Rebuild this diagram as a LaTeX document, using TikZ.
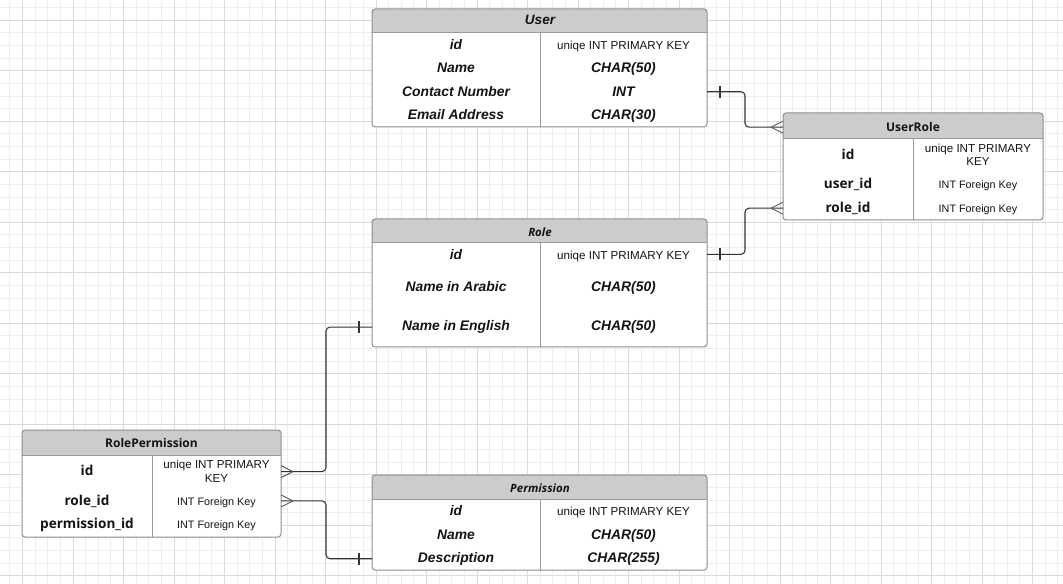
\documentclass[tikz,border=0pt]{standalone}
\usepackage{fontspec}
\setmainfont{Liberation Sans}
\newfontfamily\nsans{Open Sans}
\definecolor{gridmin}{HTML}{EDEDED}
\definecolor{gridmaj}{HTML}{DADADA}
\definecolor{hdrgray}{HTML}{CCCCCC}
\definecolor{bordergray}{HTML}{8E8E8E}
\definecolor{divgray}{HTML}{9A9A9A}
\definecolor{conncol}{HTML}{333333}
\definecolor{txtcol}{HTML}{141414}
\tikzset{
  gridminor/.style={draw=gridmin, line width=0.75pt},
  gridmajor/.style={draw=gridmaj, line width=0.75pt},
  tblnode/.style={rectangle, fill=white, rounded corners=2.25pt, inner sep=0pt, outer sep=0pt},
  tblborder/.style={draw=bordergray, line width=0.75pt, rounded corners=2.25pt},
  tblline/.style={draw=divgray, line width=0.75pt},
  conn/.style={draw=conncol, line width=0.8pt, rounded corners=3pt},
  crowline/.style={draw=conncol!80, line width=0.7pt},
  barline/.style={draw=conncol, line width=0.8pt},
  txt/.style={anchor=base, text=txtcol, inner sep=1pt},
  attr/.style={txt, font=\bfseries\itshape\fontsize{10.4}{12.5}\selectfont},
  hdrit/.style={txt, font=\bfseries\itshape\fontsize{10.2}{12}\selectfont},
  pk/.style={txt, font=\fontsize{8.7}{10.5}\selectfont},
  pkwrap/.style={txt, align=center, font=\fontsize{8.7}{10.3}\selectfont},
  fk/.style={txt, font=\fontsize{8.1}{10}\selectfont},
  nattr/.style={txt, font=\nsans\bfseries\fontsize{10.2}{12.5}\selectfont},
  nhdr/.style={txt, font=\nsans\bfseries\fontsize{9}{11}\selectfont},
  nhdrit/.style={txt, font=\nsans\bfseries\itshape\fontsize{8.6}{11}\selectfont},
}
% name, x1, y1, x2, y2, header bottom, divider x
\newcommand\ertable[7]{%
  \node[tblnode, anchor=north west, minimum width={(#4-#2)*0.75pt}, minimum height={(#5-#3)*0.75pt}] (#1) at (#2,#3) {};
  \begin{scope}
    \clip[rounded corners=2.25pt] (#2,#3) rectangle (#4,#5);
    \fill[hdrgray] (#2,#3) rectangle (#4,#6);
  \end{scope}
  \draw[tblline] (#2,#6) -- (#4,#6);
  \draw[tblline] (#7,#6) -- (#7,#5);
  \draw[tblborder] (#2,#3) rectangle (#4,#5);
}
\begin{document}
\begin{tikzpicture}[x=0.75pt, y=-0.75pt]
\useasboundingbox (0,0) rectangle (1063,584);
\fill[white] (0,0) rectangle (1063,584);
% grid
\begin{scope}
  \clip (0,0) rectangle (1063,584);
  \foreach \i in {-2,...,83} {\draw[gridminor] ({22.5+\i*12.625},0) -- ({22.5+\i*12.625},584);}
  \foreach \j in {-2,...,45} {\draw[gridminor] (0,{20.3+\j*12.625}) -- (1063,{20.3+\j*12.625});}
  \foreach \i in {0,...,20} {\draw[gridmajor] ({22.5+\i*50.5},0) -- ({22.5+\i*50.5},584);}
  \foreach \j in {0,...,11} {\draw[gridmajor] (0,{20.3+\j*50.5}) -- (1063,{20.3+\j*50.5});}
\end{scope}

% ---------- User ----------
\ertable{user}{372}{9}{707}{127}{33}{540}
\node[hdrit] (uhead) at (540,24.3) {User};
\node[attr] (uid) at (456,49.3) {id};
\node[pk] (uidt) at (623.5,49.3) {uniqe INT PRIMARY KEY};
\node[attr] (uname) at (456,72.7) {Name};
\node[attr] (unamet) at (623.5,72.7) {CHAR(50)};
\node[attr] (ucontact) at (456,96.7) {Contact Number};
\node[attr] (ucontactt) at (623.5,96.7) {INT};
\node[attr] (uemail) at (456,120) {Email Address};
\node[attr] (uemailt) at (623.5,120) {CHAR(30)};

% ---------- UserRole ----------
\ertable{userrole}{783}{113}{1043}{220}{139}{913}
\node[nhdr] (urhead) at (913,131.7) {UserRole};
\node[nattr] (urid) at (848,159.3) {id};
\node[pkwrap] (uridt) at (978,166) {uniqe INT PRIMARY\\KEY};
\node[nattr] (uruser) at (848,188.3) {user\_id};
\node[fk] (urusert) at (978,188.3) {INT Foreign Key};
\node[nattr] (urrole) at (848,212.3) {role\_id};
\node[fk] (urrolet) at (978,212.3) {INT Foreign Key};

% ---------- Role ----------
\ertable{role}{372}{219}{707}{347}{243}{540}
\node[nhdrit] (rhead) at (540,236.7) {Role};
\node[attr] (rid) at (456,259.3) {id};
\node[pk] (ridt) at (623.5,259.3) {uniqe INT PRIMARY KEY};
\node[attr] (rar) at (456,291.7) {Name in Arabic};
\node[attr] (rart) at (623.5,291.7) {CHAR(50)};
\node[attr] (ren) at (456,330.7) {Name in English};
\node[attr] (rent) at (623.5,330.7) {CHAR(50)};

% ---------- Permission ----------
\ertable{perm}{372}{475}{707}{570}{499}{540}
\node[nhdrit] (phead) at (540,492.3) {Permission};
\node[attr] (pid) at (456,515) {id};
\node[pk] (pidt) at (623.5,515) {uniqe INT PRIMARY KEY};
\node[attr] (pname) at (456,539) {Name};
\node[attr] (pnamet) at (623.5,539) {CHAR(50)};
\node[attr] (pdesc) at (456,562.3) {Description};
\node[attr] (pdesct) at (623.5,562.3) {CHAR(255)};

% ---------- RolePermission ----------
\ertable{rolperm}{22}{430}{281}{537}{455}{152}
\node[nhdr] (rphead) at (151.5,447.7) {RolePermission};
\node[nattr] (rpid) at (87,475) {id};
\node[pkwrap] (rpidt) at (216.5,482.7) {uniqe INT PRIMARY\\KEY};
\node[nattr] (rprole) at (87,505) {role\_id};
\node[fk] (rprolet) at (216.5,505) {INT Foreign Key};
\node[nattr] (rpperm) at (87,528.3) {permission\_id};
\node[fk] (rppermt) at (216.5,528.3) {INT Foreign Key};

% ---------- connectors ----------
\coordinate (jr) at (745,0);
\coordinate (jl) at (326,0);

% User -> UserRole
\draw[conn] (user.east |- ucontact) -- (jr |- ucontact) -- (jr |- urhead) -- (userrole.west |- urhead);
\draw[barline] (user.east |- ucontact) ++(13,-6) -- ++(0,12);
\draw[crowline] (userrole.west |- urhead) ++(-12,0) -- ++(12,-6);
\draw[crowline] (userrole.west |- urhead) ++(-12,0) -- ++(12,6);

% Role -> UserRole
\draw[conn] (role.east |- rid) -- (jr |- rid) -- (jr |- urrole) -- (userrole.west |- urrole);
\draw[barline] (role.east |- rid) ++(13,-6) -- ++(0,12);
\draw[crowline] (userrole.west |- urrole) ++(-12,0) -- ++(12,-6);
\draw[crowline] (userrole.west |- urrole) ++(-12,0) -- ++(12,6);

% Role -> RolePermission
\draw[conn] (role.west |- ren) -- (jl |- ren) -- (jl |- rpidt) -- (rolperm.east |- rpidt);
\draw[barline] (role.west |- ren) ++(-13,-6) -- ++(0,12);
\draw[crowline] (rolperm.east |- rpidt) ++(12,0) -- ++(-12,-6);
\draw[crowline] (rolperm.east |- rpidt) ++(12,0) -- ++(-12,6);

% RolePermission -> Permission
\draw[conn] (rolperm.east |- rprole) -- (jl |- rprole) -- (jl |- pdesc) -- (perm.west |- pdesc);
\draw[barline] (perm.west |- pdesc) ++(-13,-6) -- ++(0,12);
\draw[crowline] (rolperm.east |- rprole) ++(12,0) -- ++(-12,-6);
\draw[crowline] (rolperm.east |- rprole) ++(12,0) -- ++(-12,6);
\end{tikzpicture}
\end{document}
